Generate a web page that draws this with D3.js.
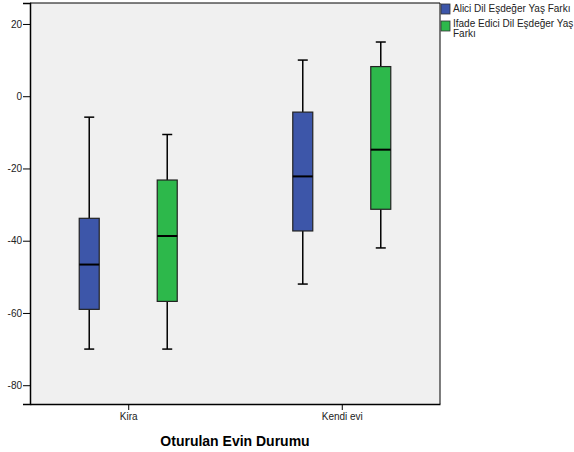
<!DOCTYPE html>
<html>
<head>
<meta charset="utf-8">
<script src="https://cdn.jsdelivr.net/npm/d3@7"></script>
<style>
  body { margin: 0; background: #fff; overflow: hidden; }
  svg { display: block; }
  svg text { font-family: "Liberation Sans", Arial, sans-serif; }
</style>
</head>
<body>
<div id="chart"></div>
<script>
// categories and series
var categories = ["Kira", "Kendi evi"];
var series = ["Alici Dil Eşdeğer Yaş Farkı", "Ifade Edici Dil Eşdeğer Yaş Farkı"];
var seriesColors = ["#3d56a9", "#2db84b"];

// box stats per series, one value per category: [Kira, Kendi evi]
var whiskerLow = [[-70, -52], [-70, -42]];
var q1 = [[-59, -37.3], [-56.8, -31.3]];
var median = [[-46.6, -22.2], [-38.7, -14.8]];
var q3 = [[-33.8, -4.4], [-23.2, 8.2]];
var whiskerHigh = [[-5.8, 10], [-10.6, 15]];

var yTicks = [20, 0, -20, -40, -60, -80];

var svgWidth = 574, svgHeight = 452;
var margin = { top: 3, right: 134, bottom: 48, left: 30 };
var chartWidth = svgWidth - margin.left - margin.right;
var chartHeight = svgHeight - margin.top - margin.bottom;

var svg = d3.select("#chart").append("svg")
  .attr("width", svgWidth)
  .attr("height", svgHeight);

var chartGroup = svg.append("g")
  .attr("transform", `translate(${margin.left},${margin.top})`);

// plot background
chartGroup.append("rect")
  .attr("width", chartWidth)
  .attr("height", chartHeight)
  .attr("fill", "#f0f0f0");

var xScale = d3.scalePoint()
  .domain(categories)
  .range([0, chartWidth])
  .padding(0.46);

var xInner = d3.scalePoint()
  .domain(series)
  .range([-39, 39]);

var yScale = d3.scaleLinear()
  .domain([-85.2, 25.8])
  .range([chartHeight, 0]);

var boxWidth = 20;

// build rows from the arrays
var rows = [];
series.forEach(function (s, si) {
  categories.forEach(function (c, ci) {
    rows.push({
      cat: c, ser: s, color: seriesColors[si],
      lo: whiskerLow[si][ci], q1: q1[si][ci], med: median[si][ci],
      q3: q3[si][ci], hi: whiskerHigh[si][ci]
    });
  });
});

var boxes = chartGroup.selectAll(".box")
  .data(rows)
  .enter()
  .append("g")
  .attr("class", "box")
  .attr("transform", d => `translate(${xScale(d.cat) + xInner(d.ser)},0)`);

// whisker stems
boxes.append("line")
  .attr("y1", d => yScale(d.hi)).attr("y2", d => yScale(d.q3))
  .attr("stroke", "#000").attr("stroke-width", 1.5);
boxes.append("line")
  .attr("y1", d => yScale(d.q1)).attr("y2", d => yScale(d.lo))
  .attr("stroke", "#000").attr("stroke-width", 1.5);

// whisker caps
boxes.append("line")
  .attr("x1", -5).attr("x2", 5)
  .attr("y1", d => yScale(d.hi)).attr("y2", d => yScale(d.hi))
  .attr("stroke", "#000").attr("stroke-width", 1.5);
boxes.append("line")
  .attr("x1", -5).attr("x2", 5)
  .attr("y1", d => yScale(d.lo)).attr("y2", d => yScale(d.lo))
  .attr("stroke", "#000").attr("stroke-width", 1.5);

// the box
boxes.append("rect")
  .attr("x", -boxWidth / 2)
  .attr("width", boxWidth)
  .attr("y", d => yScale(d.q3))
  .attr("height", d => yScale(d.q1) - yScale(d.q3))
  .attr("fill", d => d.color)
  .attr("stroke", "#222")
  .attr("stroke-width", 1.2);

// median
boxes.append("line")
  .attr("x1", -boxWidth / 2).attr("x2", boxWidth / 2)
  .attr("y1", d => yScale(d.med)).attr("y2", d => yScale(d.med))
  .attr("stroke", "#000").attr("stroke-width", 2);

// axes (plain hyphen for negatives, like the original)
var yAxis = d3.axisLeft(yScale).tickValues(yTicks).tickSize(7).tickPadding(1)
  .tickFormat(d => String(d));
var yG = chartGroup.append("g").call(yAxis);
yG.select(".domain").attr("stroke-width", 1.5);
yG.selectAll("text").attr("font-size", 10).attr("fill", "#222");

var xAxis = d3.axisBottom(xScale).tickSize(6).tickPadding(3).tickSizeOuter(0);
var xG = chartGroup.append("g")
  .attr("transform", `translate(0, ${chartHeight})`)
  .call(xAxis);
xG.select(".domain").attr("stroke-width", 1.5);
xG.selectAll("text").attr("font-size", 10).attr("fill", "#222");

// top and right frame lines
chartGroup.append("line").attr("x1", 0).attr("x2", chartWidth).attr("y1", 0).attr("y2", 0)
  .attr("stroke", "#000").attr("stroke-width", 1);
chartGroup.append("line").attr("x1", chartWidth).attr("x2", chartWidth).attr("y1", 0).attr("y2", chartHeight)
  .attr("stroke", "#000").attr("stroke-width", 1);

// x axis title
svg.append("text")
  .attr("x", margin.left + chartWidth / 2)
  .attr("y", 446)
  .attr("text-anchor", "middle")
  .attr("font-size", 14)
  .attr("font-weight", "bold")
  .text("Oturulan Evin Durumu");

// legend
var legend = svg.append("g").attr("transform", "translate(441,0)");
var legendLines = [["Alici Dil Eşdeğer Yaş Farkı"], ["Ifade Edici Dil Eşdeğer Yaş", "Farkı"]];
var legendTop = [4, 21];
var legendBaseline = [12, 27];
series.forEach(function (s, i) {
  legend.append("rect")
    .attr("x", 0).attr("y", legendTop[i])
    .attr("width", 9).attr("height", 10)
    .attr("fill", seriesColors[i])
    .attr("stroke", "#333").attr("stroke-width", 0.8);
  var t = legend.append("text")
    .attr("x", 12).attr("y", legendBaseline[i])
    .attr("font-size", 10)
    .attr("fill", "#222");
  legendLines[i].forEach(function (ln, j) {
    t.append("tspan").attr("x", 12).attr("dy", j === 0 ? 0 : 10).text(ln);
  });
});
</script>
</body>
</html>
